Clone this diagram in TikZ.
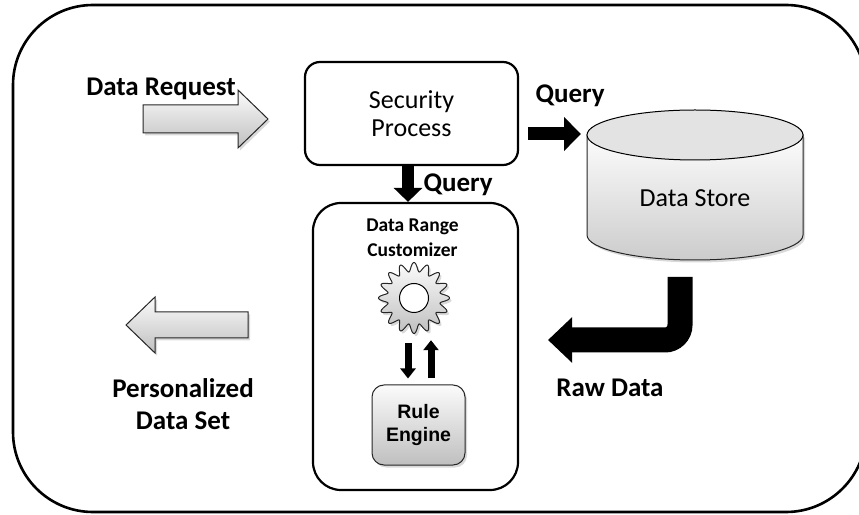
\documentclass[tikz,border=0pt]{standalone}
\usepackage{fontspec}
\setmainfont{Carlito}
\newfontfamily\arialfont{Liberation Sans}
\usetikzlibrary{positioning, arrows.meta, shadows}
\tikzset{x=1pt, y=1pt,
  box/.style={draw, line width=2.2pt, rounded corners=15pt, align=center},
  greyfill/.style={top color=gray!3, bottom color=gray!50, draw=black!85, line width=1pt},
  shadowed/.style={drop shadow={shadow xshift=2pt, shadow yshift=-2.5pt, opacity=0.3}},
  bigarrow/.style={line width=12pt, -{Triangle[width=28pt,length=14pt]}},
  smallarrow/.style={line width=7pt, -{Triangle[width=15pt,length=10pt]}},
  lbl/.style={font=\fontsize{27}{32}\selectfont\bfseries, align=center}}

\begin{document}
\begin{tikzpicture}
\useasboundingbox (0,0) rectangle (859,514);
% frame
\draw[line width=2.6pt, rounded corners=80pt] (13,2) rectangle (866,509);

% data store
\draw[greyfill, top color=gray!2, bottom color=gray!40, shadowed] (587,379) -- (587,279) arc[start angle=180, end angle=360, x radius=108, y radius=25] -- (803,379) -- cycle;
\draw[fill=gray!22, line width=1pt] (695,379) ellipse[x radius=108, y radius=25];

% nodes
\node[box, minimum width=213pt, minimum height=103pt, font=\fontsize{26}{28}\selectfont] (sec) at (411.5,400.5) {Security\\Process};
\node[box, rounded corners=28pt, minimum width=205pt, minimum height=287pt] (drc) at (415.5,167.5) {};
\node[font=\fontsize{19.5}{25}\selectfont\bfseries, align=center, below=13pt of drc.north, xshift=-3pt] (drctext) {Data Range\\Customizer};
\node[circle, minimum size=72pt] (gear) at (414,216) {};
\node[greyfill, shadowed, rounded corners=12pt, minimum width=93pt, minimum height=80pt, align=center,
  font=\arialfont\fontsize{19.5}{23}\selectfont\bfseries] (re) at (418.5,89) {Rule\\Engine};
\node[font=\fontsize{26}{30}\selectfont] (ds) at (695,316) {Data Store};

% labels
\node[lbl] (dreq) at (161,425) {Data Request};
\node[lbl, anchor=base west] (q1) at (420,322) {Query};
\node[lbl, anchor=base west] (q2) at (532,411) {Query};
\node[lbl] (raw) at (610,126) {Raw Data};
\node[lbl] (pds) at (183,110) {Personalized\\Data Set};

% gear
\begin{scope}[shift={(gear)}]
\draw[greyfill, shadowed] plot[domain=0:360, samples=289, variable=\t] ({(31+4.5*cos(16*\t))*cos(\t)}, {(31+4.5*cos(16*\t))*sin(\t)}) -- cycle;
\draw[fill=white, line width=1pt] (0,0) circle (14.5);
\end{scope}

% grey arrows
\draw[greyfill, shadowed] (143,409) -- (238,409) -- (238,424) -- (268,395) -- (238,366) -- (238,381) -- (143,381) -- cycle;
\draw[greyfill, shadowed] (248,202) -- (155,202) -- (155,217) -- (126,189) -- (155,161) -- (155,176) -- (248,176) -- cycle;

% black arrows
\coordinate (qa) at (528,380);
\coordinate (qb) at (581,380);
\coordinate (rd) at (680,237);
\coordinate (rdend) at (548,174);
\draw[bigarrow] ([xshift=-3.5pt]sec.south) -- ([xshift=-3.5pt]sec.south |- drc.north);
\draw[bigarrow, line width=13pt, -{Triangle[width=33pt,length=17pt]}] (qa) -- (qb);
\draw[line width=25pt, rounded corners=15pt, -{Triangle[width=44pt,length=24pt]}] (rd) |- (rdend);
\draw[smallarrow] ([xshift=-6pt,yshift=-9pt]gear.south) -- ([xshift=-10.5pt,yshift=6pt]re.north);
\draw[smallarrow] ([xshift=12.5pt,yshift=6pt]re.north) -- ([xshift=17pt,yshift=-6pt]gear.south);
\end{tikzpicture}
\end{document}
